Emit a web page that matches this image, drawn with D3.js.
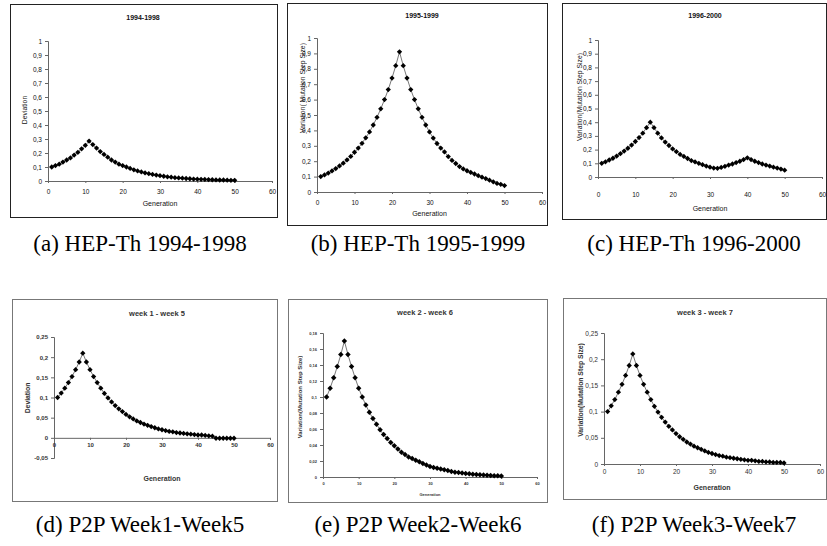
<!DOCTYPE html>
<html><head><meta charset="utf-8">
<script src="https://cdn.jsdelivr.net/npm/d3@7"></script>
<style>body{margin:0;background:#fff}svg{display:block}text{opacity:0.999}</style>
</head><body>
<svg id="c" width="827" height="546"></svg>
<script>
const generations = d3.range(1, 51);
const xTicks = [0, 10, 20, 30, 40, 50, 60];

const titles = ["1994-1998", "1995-1999", "1996-2000", "week 1 - week 5", "week 2 - week 6", "week 3 - week 7"];
const captions = ["(a) HEP-Th 1994-1998", "(b) HEP-Th 1995-1999", "(c) HEP-Th 1996-2000",
                  "(d) P2P Week1-Week5", "(e) P2P Week2-Week6", "(f) P2P Week3-Week7"];
const yLabels = ["Deviation", "Variation( Mutation Step Size)", "Variation(Mutation Step Size)",
                 "Deviation", "Variation(Mutation Step Size)", "Variation(Mutation Step Size)"];
const xLabel = "Generation";

const yTicksA = [0, 0.1, 0.2, 0.3, 0.4, 0.5, 0.6, 0.7, 0.8, 0.9, 1];
const yTicksD = [-0.05, 0, 0.05, 0.1, 0.15, 0.2, 0.25];
const yTicksE = [0, 0.02, 0.04, 0.06, 0.08, 0.1, 0.12, 0.14, 0.16, 0.18];
const yTicksF = [0, 0.05, 0.1, 0.15, 0.2, 0.25];

const seriesA = [0.1, 0.11, 0.12, 0.135, 0.15, 0.165, 0.185, 0.205, 0.23, 0.255, 0.285,
  0.26, 0.235, 0.21, 0.19, 0.17, 0.15, 0.135, 0.12, 0.11, 0.1, 0.09, 0.08, 0.072, 0.065,
  0.058, 0.052, 0.047, 0.042, 0.038, 0.034, 0.03, 0.027, 0.024, 0.022, 0.02, 0.018, 0.016,
  0.014, 0.013, 0.012, 0.011, 0.01, 0.009, 0.008, 0.007, 0.007, 0.006, 0.005, 0.005];
const seriesB = [0.1, 0.111, 0.123, 0.137, 0.152, 0.169, 0.187, 0.208, 0.231, 0.258, 0.285,
  0.316, 0.352, 0.39, 0.435, 0.485, 0.54, 0.6, 0.665, 0.74, 0.82, 0.91,
  0.82, 0.74, 0.665, 0.6, 0.54, 0.485, 0.435, 0.39, 0.35, 0.315, 0.285, 0.26, 0.23, 0.205,
  0.185, 0.165, 0.15, 0.138, 0.127, 0.117, 0.106, 0.096, 0.087, 0.077, 0.066, 0.056, 0.05, 0.042];
const seriesC = [0.1, 0.111, 0.124, 0.137, 0.153, 0.17, 0.189, 0.21, 0.233, 0.259, 0.288, 0.32, 0.36, 0.4,
  0.36, 0.32, 0.285, 0.255, 0.23, 0.205, 0.185, 0.165, 0.15, 0.135, 0.12, 0.11, 0.1, 0.09, 0.08,
  0.072, 0.065, 0.063, 0.07, 0.078, 0.087, 0.095, 0.105, 0.115, 0.127, 0.14,
  0.127, 0.115, 0.105, 0.095, 0.087, 0.08, 0.072, 0.065, 0.058, 0.05];
const seriesD = [0.1, 0.111, 0.123, 0.137, 0.152, 0.169, 0.188, 0.21,
  0.188, 0.169, 0.152, 0.137, 0.123, 0.11, 0.099, 0.089, 0.08, 0.072, 0.065, 0.058, 0.052,
  0.047, 0.042, 0.038, 0.034, 0.031, 0.028, 0.025, 0.022, 0.02, 0.018, 0.016, 0.015, 0.013,
  0.012, 0.011, 0.01, 0.009, 0.008, 0.007, 0.007, 0.006, 0.005, 0.004,
  -0.001, -0.001, -0.001, -0.001, -0.001, -0.001];
const seriesE = [0.1, 0.111, 0.124, 0.138, 0.153, 0.17,
  0.153, 0.138, 0.124, 0.111, 0.1, 0.09, 0.081, 0.073, 0.066, 0.059, 0.053, 0.048, 0.043,
  0.039, 0.035, 0.031, 0.028, 0.025, 0.023, 0.021, 0.019, 0.017, 0.015, 0.013, 0.012, 0.011,
  0.01, 0.009, 0.008, 0.007, 0.006, 0.0055, 0.005, 0.0045, 0.004, 0.0035, 0.003, 0.0027,
  0.0024, 0.0021, 0.0019, 0.0017, 0.0015, 0.0013];
const seriesF = [0.1, 0.111, 0.123, 0.137, 0.152, 0.169, 0.188, 0.21,
  0.188, 0.169, 0.152, 0.137, 0.123, 0.11, 0.099, 0.089, 0.08, 0.072, 0.065, 0.058, 0.052,
  0.047, 0.042, 0.038, 0.034, 0.031, 0.028, 0.025, 0.022, 0.02, 0.018, 0.016, 0.015, 0.013,
  0.012, 0.011, 0.01, 0.009, 0.008, 0.007, 0.007, 0.006, 0.005, 0.005, 0.004, 0.004, 0.003,
  0.003, 0.003, 0.002];

const svg = d3.select("#c");
const fmt = v => String(+v.toFixed(3)).replace(".", ",");

const panels = [
  {box:[10,4,278,218], xr:[48,272], yr:[181,41], dom:[0,1], yt:yTicksA, s:seriesA, title:[143,18], gen:204, yl:[25,110], fs:6.5, bold:false, xAtZero:false, xlab:192},
  {box:[287,3,548,226], xr:[317,542], yr:[192,38], dom:[0,1], yt:yTicksA, s:seriesB, title:[422,16], gen:214, yl:[303,88], fs:6.5, bold:false, xAtZero:false, xlab:203},
  {box:[562,3,827,220], xr:[598,822], yr:[177,40], dom:[0,1], yt:yTicksA, s:seriesC, title:[705,16], gen:209, yl:[580,97], fs:6.5, bold:false, xAtZero:false, xlab:195},
  {box:[12,299,278,502], xr:[54,270], yr:[458,337], dom:[-0.05,0.25], yt:yTicksD, s:seriesD, title:[157,314], gen:479, yl:[28,398], fs:6, bold:true, xAtZero:true, xlab:447},
  {box:[288,299,548,503], xr:[323,537], yr:[477,333], dom:[0,0.18], yt:yTicksE, s:seriesE, title:[425,313], gen:495, yl:[300,397], fs:4, bold:true, xAtZero:true, xlab:486},
  {box:[563,298,827,500], xr:[604,820], yr:[464,333], dom:[0,0.25], yt:yTicksF, s:seriesF, title:[705,313], gen:488, yl:[581,390], fs:6.5, bold:false, xAtZero:true, xlab:474}
];

panels.forEach((p, i) => {
  const g = svg.append("g");
  const top = i < 3;
  g.append("rect").attr("x", p.box[0] + 0.5).attr("y", p.box[1] + 0.5)
    .attr("width", p.box[2] - p.box[0] - 1).attr("height", p.box[3] - p.box[1] - 1)
    .attr("fill", "#fff").attr("stroke", top ? "#222" : "#777").attr("stroke-width", 1);

  const x = d3.scaleLinear().domain([0, 60]).range(p.xr);
  const y = d3.scaleLinear().domain(p.dom).range(p.yr);
  const txtCol = top ? "#111" : "#333";
  const font = "'Liberation Sans', Arial, sans-serif";

  const ya = d3.axisLeft(y).tickValues(p.yt).tickFormat(fmt).tickSize(3).tickPadding(3);
  const yg = g.append("g").attr("transform", `translate(${p.xr[0]},0)`).call(ya);
  const xa = d3.axisBottom(x).tickValues(xTicks).tickFormat(d3.format("d")).tickSize(2).tickPadding(3);
  const xy = y(0);
  const xg = g.append("g").attr("transform", `translate(0,${xy})`).call(xa);
  [yg, xg].forEach(a => {
    a.attr("font-family", font);
    a.select(".domain").attr("stroke", "#666").attr("stroke-width", 1);
    a.selectAll(".tick line").attr("stroke", "#666");
    a.selectAll("text").attr("font-family", font).attr("font-size", p.fs)
      .attr("fill", txtCol).attr("font-weight", p.bold ? "bold" : "normal");
  });
  if (!p.xAtZero) {
    xg.selectAll(".tick text").attr("y", p.xlab - xy).attr("dy", "0.35em");
  }

  const pts = generations.map((gen, k) => [gen, p.s[k]]);
  g.append("path").datum(pts)
    .attr("d", d3.line().x(d => x(d[0])).y(d => y(d[1])))
    .attr("fill", "none").attr("stroke", "#555").attr("stroke-width", 0.8);
  const sym = d3.symbol().type(d3.symbolSquare).size(i === 4 ? 15 : 14);
  g.selectAll("path.m").data(pts).enter().append("path").attr("class", "m")
    .attr("transform", d => `translate(${x(d[0])},${y(d[1])}) rotate(45)`)
    .attr("d", sym).attr("fill", "#000");

  g.append("text").attr("x", p.title[0]).attr("y", p.title[1]).attr("text-anchor", "middle")
    .attr("dominant-baseline", "middle").attr("font-family", font).attr("font-weight", "bold")
    .attr("font-size", top ? 7 : 7.5).attr("fill", txtCol).text(titles[i]);
  g.append("text").attr("x", (p.xr[0] + p.xr[1]) / 2).attr("y", p.gen).attr("text-anchor", "middle")
    .attr("dominant-baseline", "middle").attr("font-family", font)
    .attr("font-weight", p.bold || i === 5 ? "bold" : "normal")
    .attr("font-size", i === 4 ? 4 : 7).attr("fill", txtCol).text(xLabel);
  g.append("text").attr("transform", `translate(${p.yl[0]},${p.yl[1]}) rotate(-90)`)
    .attr("text-anchor", "middle").attr("dominant-baseline", "middle").attr("font-family", font)
    .attr("font-weight", top ? "normal" : "bold").attr("font-size", i === 4 ? 6 : 6.8)
    .attr("fill", txtCol).text(yLabels[i]);
});

const capX = [140, 418, 694];
captions.forEach((c, i) => {
  svg.append("text").attr("x", capX[i % 3]).attr("y", i < 3 ? 251 : 532)
    .attr("text-anchor", "middle")
    .attr("font-family", "'Liberation Serif', 'Times New Roman', serif").attr("font-weight", "normal")
    .attr("font-size", 23).attr("fill", "#000").text(c);
});
</script>
</body></html>
